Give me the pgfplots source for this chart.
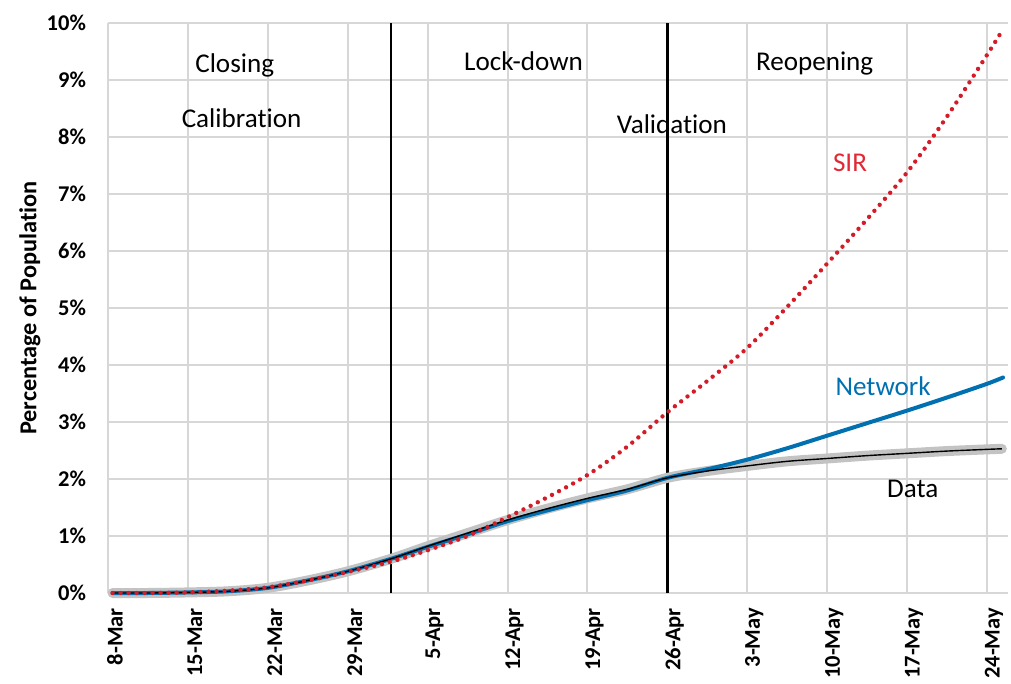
\documentclass[border=0pt]{standalone}
\usepackage{pgfplots}
\pgfplotsset{compat=1.18}
\usepackage{fontspec}
\setmainfont[Ligatures=NoCommon]{Carlito}
\definecolor{gridc}{RGB}{215,215,215}
\definecolor{bandc}{RGB}{195,195,195}
\definecolor{netc}{RGB}{0,112,176}
\definecolor{sirc}{RGB}{212,28,40}
\definecolor{sirt}{RGB}{226,40,52}
\begin{document}
\begin{tikzpicture}
\begin{axis}[
  scale only axis, width=450bp, height=285bp,
  xmin=0, xmax=78.84, ymin=0, ymax=10,
  clip=false,
  axis line style={draw=none},
  tick style={draw=none},
  grid=major,
  major grid style={draw=gridc, line width=1bp},
  xtick={0,7,...,77},
  xticklabels={8-Mar,15-Mar,22-Mar,29-Mar,5-Apr,12-Apr,19-Apr,26-Apr,3-May,10-May,17-May,24-May},
  ytick={0,1,...,10},
  yticklabels={0\%,1\%,2\%,3\%,4\%,5\%,6\%,7\%,8\%,9\%,10\%},
  ticklabel style={font=\bfseries\fontsize{11.3}{13}\selectfont},
  yticklabel style={anchor=east, xshift=-7.5bp},
  xticklabel style={xshift=3.5bp, yshift=-4bp, rotate=90, anchor=east},
  ylabel={Percentage of Population},
  every axis y label/.style={at={(axis description cs:0,0.5)}, xshift=-39bp, rotate=90, anchor=center, font=\bfseries\fontsize{12.2}{14}\selectfont},
]
\coordinate (sw) at (rel axis cs:0,0);
\coordinate (ne) at (rel axis cs:1,1);
% phase separators
\addplot[black, line width=1.3bp] coordinates {(24.8,0) (24.8,10)};
\addplot[black, line width=1.3bp] coordinates {(49,0) (49,10)};
% Data band
\addplot[bandc, line width=5bp, line cap=round, line join=round, smooth] coordinates {
(0.4,0.0) (3.5,0.0) (7,0.01) (10.5,0.03) (14,0.09) (17.5,0.22) (21,0.38) (24.8,0.6)
(28,0.82) (31.5,1.05) (35,1.28) (38.5,1.48) (42,1.66) (45.5,1.82) (49,2.02)
(52.5,2.14) (56,2.23) (59.5,2.31) (63,2.36) (66.5,2.41) (70,2.45) (73.5,2.49) (77,2.52) (78.3,2.53)};
% Network
\addplot[netc, line width=2bp, line cap=round, smooth] coordinates {
(0.4,0.0) (3.5,0.0) (7,0.01) (10.5,0.03) (14,0.09) (17.5,0.22) (21,0.38) (24.8,0.6)
(28,0.81) (31.5,1.03) (35,1.26) (38.5,1.45) (42,1.63) (45.5,1.8) (49,2.02)
(52.5,2.17) (56,2.34) (59.5,2.54) (63,2.76) (66.5,2.98) (70,3.2) (73.5,3.43) (77,3.67) (78.4,3.78)};
% Data line
\addplot[black, line width=0.7bp, smooth] coordinates {
(0.4,0.0) (3.5,0.0) (7,0.01) (10.5,0.03) (14,0.09) (17.5,0.22) (21,0.38) (24.8,0.6)
(28,0.82) (31.5,1.05) (35,1.28) (38.5,1.48) (42,1.66) (45.5,1.82) (49,2.02)
(52.5,2.14) (56,2.23) (59.5,2.31) (63,2.36) (66.5,2.41) (70,2.45) (73.5,2.49) (77,2.52) (78.3,2.53)};
% SIR
\addplot[sirc, line width=2.2bp, line cap=round, dash pattern=on 0bp off 4bp, smooth] coordinates {
(0.4,0.0) (3.5,0.0) (7,0.01) (10.5,0.04) (14,0.1) (17.5,0.22) (21,0.37) (24.8,0.55)
(28,0.75) (31.5,1.0) (35,1.33) (38.5,1.68) (42,2.07) (45.5,2.57) (49,3.17)
(52.5,3.72) (56,4.3) (59.5,5.02) (63,5.78) (66.5,6.56) (70,7.38) (73.5,8.36) (77,9.44) (78.4,9.89)};
% annotations
\begin{scope}[font=\fontsize{13.6}{16}\selectfont]
\node[anchor=base, inner sep=0pt] at (axis cs:11.1,9.14) {Closing};
\node[anchor=base, inner sep=0pt] at (axis cs:11.7,8.16) {Calibrat\kern0pt ion};
\node[anchor=base, inner sep=0pt] at (axis cs:36.4,9.16) {Lock-down};
\node[anchor=base, inner sep=0pt] at (axis cs:49.4,8.07) {Validat\kern0pt ion};
\node[anchor=base, inner sep=0pt] at (axis cs:61.9,9.16) {Reopening};
\node[anchor=base, inner sep=0pt, text=sirt] at (axis cs:65.0,7.39) {SIR};
\node[anchor=base, inner sep=0pt, text=netc] at (axis cs:67.9,3.47) {Network};
\node[anchor=base, inner sep=0pt] at (axis cs:70.5,1.68) {Data};
\end{scope}
\end{axis}
\pgfresetboundingbox
\path[use as bounding box] ([xshift=-54bp,yshift=-45.5bp]sw) rectangle ([xshift=1.5bp,yshift=11.5bp]ne);
\end{tikzpicture}
\end{document}
